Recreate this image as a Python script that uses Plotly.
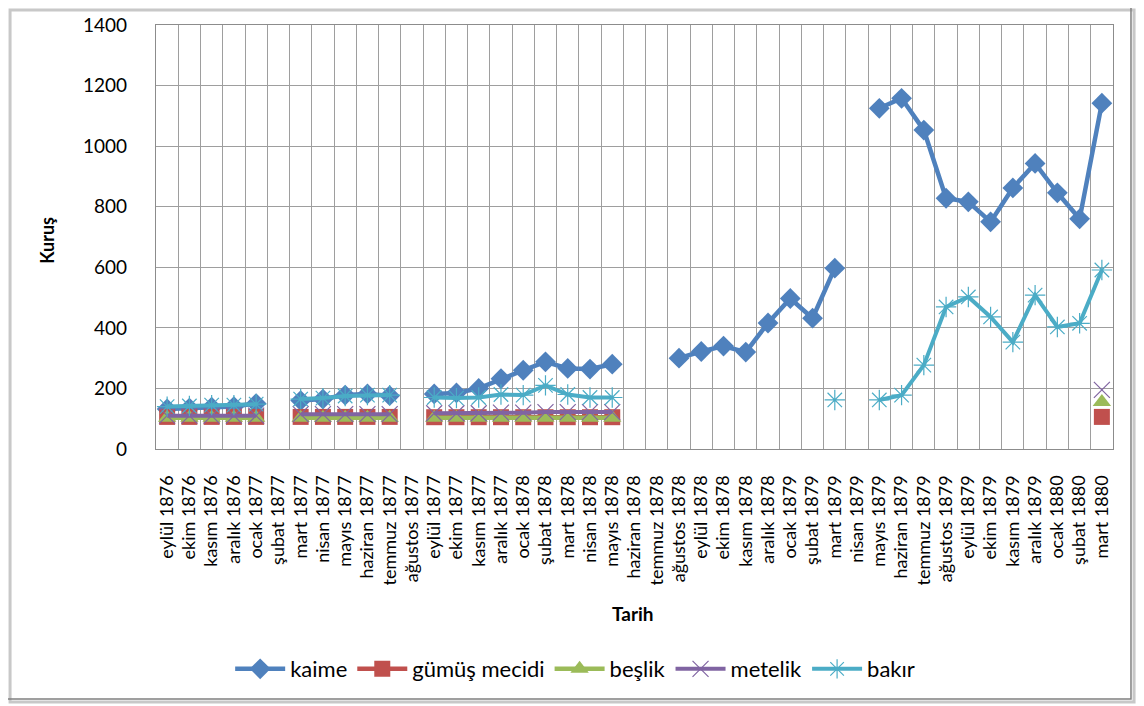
import plotly.graph_objects as go

months = ["eylül 1876","ekim 1876","kasım 1876","aralık 1876","ocak 1877","şubat 1877","mart 1877","nisan 1877",
          "mayıs 1877","haziran 1877","temmuz 1877","ağustos 1877","eylül 1877","ekim 1877","kasım 1877","aralık 1877",
          "ocak 1878","şubat 1878","mart 1878","nisan 1878","mayıs 1878","haziran 1878","temmuz 1878","ağustos 1878",
          "eylül 1878","ekim 1878","kasım 1878","aralık 1878","ocak 1879","şubat 1879","mart 1879","nisan 1879",
          "mayıs 1879","haziran 1879","temmuz 1879","ağustos 1879","eylül 1879","ekim 1879","kasım 1879","aralık 1879",
          "ocak 1880","şubat 1880","mart 1880"]
N = None
kaime = [132,135,138,140,150, N, 160,165,178,182,176, N,
         182,185,200,232,260,288,266,264,280, N,N,
         300,322,340,320,416,497,432,597, N,
         1125,1158,1053,828,816,750,862,943,846,760,1142]
gumus = [106,106,106,106,106, N, 106,106,106,106,106, N,
         105,105,105,105,105,105,105,105,105, N,N,
         N,N,N,N,N,N,N,N, N,
         N,N,N,N,N,N,N,N,N,N,106]
beslik = [103,103,103,103,103, N, 103,103,103,103,103, N,
          103,103,103,103,103,103,103,103,103, N,N,
          N,N,N,N,N,N,N,N, N,
          N,N,N,N,N,N,N,N,N,N,155]
metelik = [110,110,110,110,110, N, 115,115,115,115,115, N,
           118,118,118,120,120,122,122,122,122, N,N,
           N,N,N,N,N,N,N,N, N,
           N,N,N,N,N,N,N,N,N,N,195]
bakir = [140,142,145,145,148, N, 165,168,175,178,178, N,
         170,168,170,180,178,210,180,170,170, N,N,
         N,N,N,N,N,N,N,162, N,
         162,178,277,469,502,436,353,508,403,415,591]

series = [
    ("kaime", kaime, "#4F81BD", "diamond", 16, 4.5),
    ("gümüş mecidi", gumus, "#C0504D", "square", 16, 4.5),
    ("beşlik", beslik, "#9BBB59", "triangle-up", 16, 4.5),
    ("metelik", metelik, "#8064A2", "x-thin-open", 16, 4),
    ("bakır", bakir, "#4BACC6", "asterisk-open", 17, 4),
]

fig = go.Figure()
for name, vals, col, sym, sz, lw in series:
    mk = dict(symbol=sym, size=sz, color=col)
    if sym.endswith("open"):
        mk["line"] = dict(color=col, width=1.2)
    fig.add_trace(go.Scatter(x=months, y=vals, name=name, mode="lines+markers",
                             line=dict(color=col, width=lw), marker=mk, connectgaps=False))

FONT = "Lato, Liberation Sans, sans-serif"
# page body adds an 8px offset; margins compensate so the plot area sits at 156..1113 x 25..449 on screen
fig.update_layout(
    width=1144, height=706,
    margin=dict(l=148, r=39, t=17, b=265, autoexpand=False),
    paper_bgcolor="white", plot_bgcolor="white",
    font=dict(family=FONT, color="black"),
    showlegend=True,
    legend=dict(orientation="h", x=0.438, y=-0.519, xanchor="center", yanchor="middle",
                font=dict(size=22, family=FONT), itemwidth=50, tracegroupgap=0),
)
fig.update_xaxes(type="category", tickson="boundaries", showgrid=True, gridcolor="#9E9E9E", gridwidth=1.3,
                 tickangle=-90, tickfont=dict(size=18, family=FONT), ticks="", ticklabelstandoff=18,
                 showline=True, linecolor="#8C8C8C", linewidth=1.3, mirror=True, range=[-0.5, 42.5])
fig.update_yaxes(range=[0, 1400], dtick=200, showgrid=True, gridcolor="#9E9E9E", gridwidth=1.3,
                 tickfont=dict(size=19, family=FONT), ticks="", ticklabelstandoff=24,
                 showline=True, linecolor="#8C8C8C", linewidth=1.3, mirror=True, zeroline=False)

fig.add_annotation(text="<b>Tarih</b>", x=0.498, y=-0.389, xref="paper", yref="paper",
                   xanchor="center", yanchor="middle",
                   showarrow=False, font=dict(size=19, family=FONT))
fig.add_annotation(text="<b>Kuruş</b>", x=-0.114, y=0.493, xref="paper", yref="paper",
                   xanchor="center", yanchor="middle",
                   showarrow=False, textangle=-90, font=dict(size=18, family=FONT))

# outer chart frame with shadow
fig.add_shape(type="rect", xref="paper", yref="paper", x0=-0.1525, x1=1.0220, y0=-0.5965, y1=1.0355,
              line=dict(color="#C8C8C8", width=3), layer="above")
fig.add_shape(type="rect", xref="paper", yref="paper", x0=-0.1557, x1=1.0188, y0=-0.5896, y1=1.0425,
              line=dict(color="#808080", width=1.5), layer="above")

fig.write_html("out.html")
